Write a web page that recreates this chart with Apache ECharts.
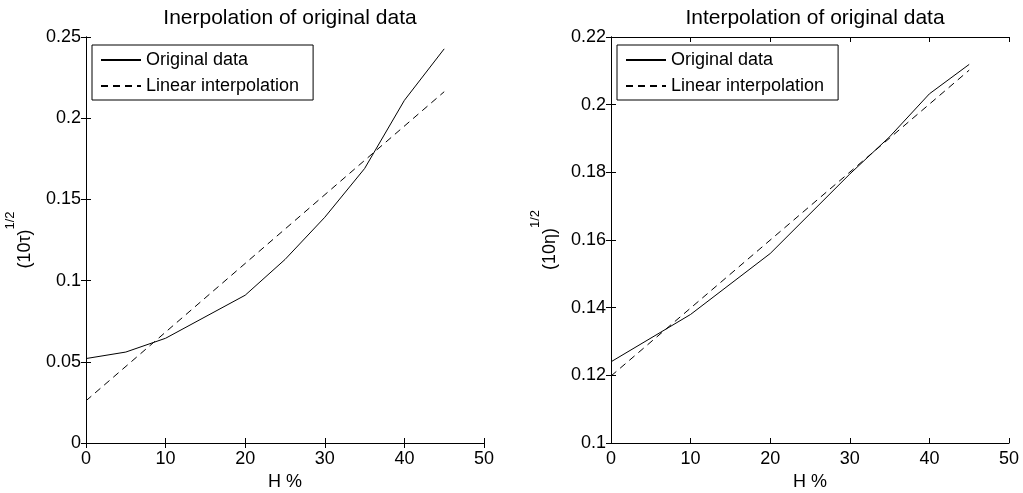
<!DOCTYPE html>
<html>
<head>
<meta charset="utf-8">
<script src="https://cdn.jsdelivr.net/npm/echarts@6/dist/echarts.min.js"></script>
<style>
  html, body { margin: 0; padding: 0; background: #fff; }
  #chart { width: 1023px; height: 493px; }
</style>
</head>
<body>
<div id="chart"></div>
<script>
// left panel: (10 tau)^(1/2) vs H %
const tauH = [0, 5, 10, 20, 25, 30, 35, 40, 45]
const tauOrig = [0.052, 0.056, 0.0645, 0.091, 0.113, 0.139, 0.169, 0.211, 0.2427]
const tauLinH = [0, 45]
const tauLin = [0.026, 0.2163]

// right panel: (10 eta)^(1/2) vs H %
const etaH = [0, 10, 20, 30, 35, 40, 45]
const etaOrig = [0.124, 0.138, 0.156, 0.1795, 0.1905, 0.2032, 0.2119]
const etaLinH = [0, 45]
const etaLin = [0.1198, 0.2102]

const titles = ['Inerpolation of original data', 'Interpolation of original data']
const font = 'Liberation Sans, Arial, Helvetica, sans-serif'

const pair = (xs, ys) => xs.map((x, i) => [x, ys[i]])

// v6 would shrink the grid to keep labels inside, keep the plot boxes fixed
const grids = [
  {left: 86, top: 37, width: 398, height: 406, outerBoundsMode: 'none'},
  {left: 611, top: 37, width: 398, height: 406, outerBoundsMode: 'none'}
]

const lineAxis = {lineStyle: {color: '#000', width: 1}}
const tick = {inside: true, length: 5, lineStyle: {color: '#000'}}

const xAxes = []
const yAxes = []
const yCfg = [
  {min: 0, max: 0.25, interval: 0.05, name: '{a|(10τ)}{b|1/2}'},
  {min: 0.1, max: 0.22, interval: 0.02, name: '{a|(10η)}{b|1/2}'}
]
grids.forEach((g, i) => {
  xAxes.push({
    gridIndex: i, type: 'value', min: 0, max: 50, interval: 10,
    axisLine: lineAxis, axisTick: tick, splitLine: {show: false},
    axisLabel: {color: '#000', fontSize: 18, fontFamily: font, margin: 7},
    name: 'H %', nameLocation: 'middle', nameGap: 29,
    nameTextStyle: {color: '#000', fontSize: 18, fontFamily: font}
  })
  xAxes.push({
    gridIndex: i, type: 'value', position: 'top', min: 0, max: 50, interval: 10,
    axisLine: lineAxis, axisTick: tick, splitLine: {show: false}, axisLabel: {show: false}
  })
  yAxes.push({
    gridIndex: i, type: 'value', min: yCfg[i].min, max: yCfg[i].max, interval: yCfg[i].interval,
    axisLine: lineAxis, axisTick: tick, splitLine: {show: false},
    axisLabel: {color: '#000', fontSize: 18, fontFamily: font, margin: 5},
    name: yCfg[i].name, nameLocation: 'middle', nameRotate: 90, nameGap: 52,
    nameTextStyle: {
      color: '#000', fontFamily: font,
      rich: {
        a: {fontSize: 18, fontFamily: font, color: '#000', lineHeight: 30, verticalAlign: 'bottom'},
        b: {fontSize: 13, fontFamily: font, color: '#000', verticalAlign: 'top'}
      }
    }
  })
  yAxes.push({
    gridIndex: i, type: 'value', position: 'right',
    min: yCfg[i].min, max: yCfg[i].max, interval: yCfg[i].interval,
    axisLine: lineAxis, axisTick: tick, splitLine: {show: false}, axisLabel: {show: false}
  })
})

const mkSeries = (name, data, i, dashed) => ({
  name, type: 'line', xAxisIndex: i * 2, yAxisIndex: i * 2,
  data, symbol: 'none', silent: true, animation: false,
  lineStyle: {color: '#000', width: 1, type: dashed ? [7, 5] : 'solid'},
  itemStyle: {color: '#000'}
})

const chart = echarts.init(document.getElementById('chart'))
chart.setOption({
  backgroundColor: '#fff',
  animation: false,
  title: titles.map((t, i) => ({
    text: t, left: grids[i].left + grids[i].width / 2, textAlign: 'center', top: 3,
    textStyle: {color: '#000', fontSize: 21, fontWeight: 'normal', fontFamily: font}
  })),
  legend: grids.map((g, i) => ({
    orient: 'vertical', left: g.left + 6, top: 45,
    data: ['Original data', 'Linear interpolation'],
    itemWidth: 40, itemHeight: 16, itemGap: 8,
    padding: [6, 14, 5, 8],
    borderColor: '#000', borderWidth: 1, backgroundColor: '#fff',
    selectedMode: false,
    itemStyle: {opacity: 0},
    textStyle: {color: '#000', fontSize: 18, fontFamily: font}
  })),
  grid: grids,
  xAxis: xAxes,
  yAxis: yAxes,
  series: [
    mkSeries('Original data', pair(tauH, tauOrig), 0, false),
    mkSeries('Linear interpolation', pair(tauLinH, tauLin), 0, true),
    mkSeries('Original data', pair(etaH, etaOrig), 1, false),
    mkSeries('Linear interpolation', pair(etaLinH, etaLin), 1, true)
  ]
})
</script>
</body>
</html>
